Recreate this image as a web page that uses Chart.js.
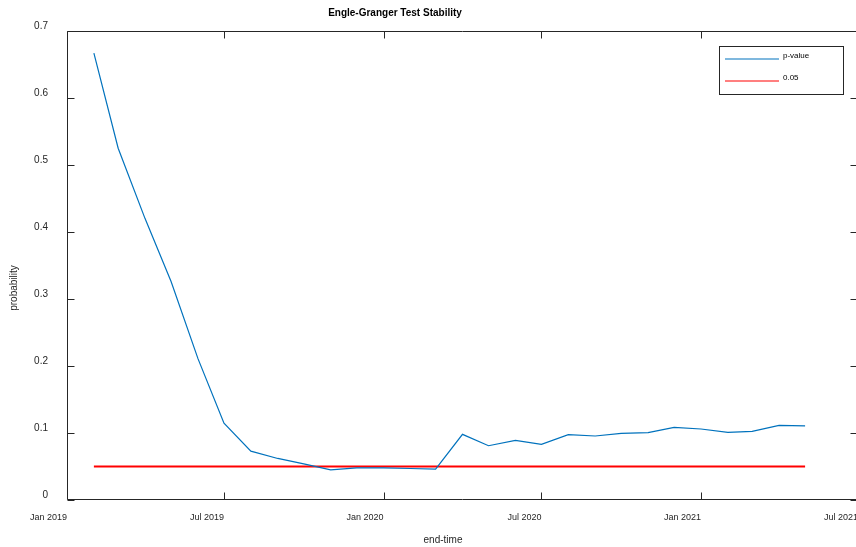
<!DOCTYPE html>
<html>
<head>
<meta charset="utf-8">
<script src="https://cdn.jsdelivr.net/npm/chart.js@4.4.1/dist/chart.umd.min.js"></script>
<style>
  html, body { margin: 0; padding: 0; background: #fff; overflow: hidden; }
  /* the plot box runs a couple of pixels past the right edge, as in the original;
     the x tick padding (12px) is also reserved on the right, hence 870 */
  #wrap { width: 870px; height: 547px; position: relative; }
</style>
</head>
<body>
<div id="wrap"><canvas id="chart"></canvas></div>
<script>
// end-time of each window (first of month)
const endMonths = [
    '2019-02', '2019-03', '2019-04', '2019-05', '2019-06', '2019-07', '2019-08',
    '2019-09', '2019-10', '2019-11', '2019-12', '2020-01', '2020-02', '2020-03',
    '2020-04', '2020-05', '2020-06', '2020-07', '2020-08', '2020-09', '2020-10',
    '2020-11', '2020-12', '2021-01', '2021-02', '2021-03', '2021-04', '2021-05'
];
const pValues = [
    0.667, 0.525, 0.420, 0.326, 0.211, 0.1145, 0.073,
    0.062, 0.054, 0.045, 0.048, 0.048, 0.047, 0.046,
    0.098, 0.081, 0.089, 0.083, 0.0975, 0.0955, 0.0995,
    0.1005, 0.1085, 0.106, 0.101, 0.1025, 0.1115, 0.1105
];
const threshold = 0.05;

const xTickMonths = ['2019-01', '2019-07', '2020-01', '2020-07', '2021-01', '2021-07'];
const xTickLabels = ['Jan 2019', 'Jul 2019', 'Jan 2020', 'Jul 2020', 'Jan 2021', 'Jul 2021'];
const yTicks = [0, 0.1, 0.2, 0.3, 0.4, 0.5, 0.6, 0.7];

const titleText = 'Engle-Granger Test Stability';
const xTitle = 'end-time';
const yTitle = 'probability';

const axisColor = '#262626';
const fontFamily = 'Arial, "Liberation Sans", Helvetica, sans-serif';

// days since Jan 1 2019
function dayNum(ym) {
    const [y, m] = ym.split('-').map(Number);
    return (Date.UTC(y, m - 1, 1) - Date.UTC(2019, 0, 1)) / 864e5;
}

const pPoints = endMonths.map((m, i) => ({ x: dayNum(m), y: pValues[i] }));
const threshPoints = [
    { x: dayNum(endMonths[0]), y: threshold },
    { x: dayNum(endMonths[endMonths.length - 1]), y: threshold }
];

// box, inward ticks, title, axis labels, legend
const matlabLook = {
    id: 'matlabLook',
    afterDraw(chart) {
        const ctx = chart.ctx;
        const a = chart.chartArea;
        const xs = chart.scales.x;
        const ys = chart.scales.y;
        const L = Math.round(a.left) + 0.5, R = Math.round(a.right) - 0.5;
        const T = Math.round(a.top) + 0.5, B = Math.round(a.bottom) - 0.5;
        const tl = 7;

        ctx.save();
        ctx.strokeStyle = axisColor;
        ctx.lineWidth = 1;
        ctx.beginPath();
        ctx.rect(L, T, R - L, B - T);
        xTickMonths.forEach(m => {
            const px = Math.round(xs.getPixelForValue(dayNum(m))) + 0.5;
            ctx.moveTo(px, B); ctx.lineTo(px, B - tl);
            ctx.moveTo(px, T); ctx.lineTo(px, T + tl);
        });
        yTicks.forEach(v => {
            const py = Math.round(ys.getPixelForValue(v)) + 0.5;
            ctx.moveTo(L, py); ctx.lineTo(L + tl, py);
            ctx.moveTo(R, py); ctx.lineTo(R - tl, py);
        });
        ctx.stroke();

        // title
        ctx.fillStyle = '#000';
        ctx.font = 'bold 10px ' + fontFamily;
        ctx.textAlign = 'center';
        ctx.textBaseline = 'middle';
        ctx.fillText(titleText, 395, 13);

        // axis titles
        ctx.fillStyle = axisColor;
        ctx.font = '10px ' + fontFamily;
        ctx.fillText(xTitle, 443, 540);
        ctx.save();
        ctx.translate(14, 288);
        ctx.rotate(-Math.PI / 2);
        ctx.fillText(yTitle, 0, 0);
        ctx.restore();

        // legend
        const lx = 719.5, ly = 46.5, lw = 124, lh = 48;
        ctx.fillStyle = '#fff';
        ctx.fillRect(lx, ly, lw, lh);
        ctx.strokeStyle = axisColor;
        ctx.strokeRect(lx, ly, lw, lh);
        ctx.font = '8px ' + fontFamily;
        ctx.textAlign = 'left';
        chart.data.datasets.forEach((ds, i) => {
            const yy = 59 + i * 22;
            ctx.strokeStyle = ds.borderColor;
            ctx.lineWidth = 1.2;
            ctx.beginPath();
            ctx.moveTo(725, yy); ctx.lineTo(779, yy);
            ctx.stroke();
            ctx.fillStyle = '#000';
            ctx.fillText(ds.label, 783, yy - 3.5);
        });
        ctx.restore();
    }
};

const ctx = document.getElementById('chart').getContext('2d');
const chart = new Chart(ctx, {
    type: 'line',
    data: {
        datasets: [{
            label: 'p-value',
            data: pPoints,
            borderColor: '#0072BD',
            borderWidth: 1.2,
            pointRadius: 0,
            tension: 0,
            fill: false
        }, {
            label: '0.05',
            data: threshPoints,
            borderColor: '#FF0000',
            borderWidth: 2,
            pointRadius: 0,
            tension: 0,
            fill: false
        }]
    },
    options: {
        responsive: true,
        maintainAspectRatio: false,
        animation: false,
        layout: { padding: { top: 31, right: 0, bottom: 0, left: 0 } },
        plugins: {
            legend: { display: false },
            title: { display: false },
            tooltip: { enabled: false }
        },
        scales: {
            x: {
                type: 'linear',
                min: dayNum(xTickMonths[0]),
                max: dayNum(xTickMonths[xTickMonths.length - 1]),
                grid: { display: false, drawTicks: false },
                border: { display: false },
                afterBuildTicks: scale => {
                    scale.ticks = xTickMonths.map(m => ({ value: dayNum(m) }));
                },
                afterFit: scale => { scale.height = 47; },
                ticks: {
                    autoSkip: false,
                    maxRotation: 0,
                    align: 'end',
                    padding: 12,
                    color: axisColor,
                    font: { size: 9, family: fontFamily },
                    callback: (v, i) => xTickLabels[i]
                }
            },
            y: {
                min: 0,
                max: 0.7,
                grid: { display: false, drawTicks: false },
                border: { display: false },
                afterBuildTicks: scale => {
                    scale.ticks = yTicks.map(v => ({ value: v }));
                },
                afterFit: scale => { scale.width = 67; },
                ticks: {
                    padding: 19,
                    labelOffset: -5,
                    color: axisColor,
                    font: { size: 10, family: fontFamily },
                    callback: v => v === 0 ? '0' : (Math.round(v * 10) / 10).toFixed(1)
                }
            }
        }
    },
    plugins: [matlabLook]
});
</script>
</body>
</html>
